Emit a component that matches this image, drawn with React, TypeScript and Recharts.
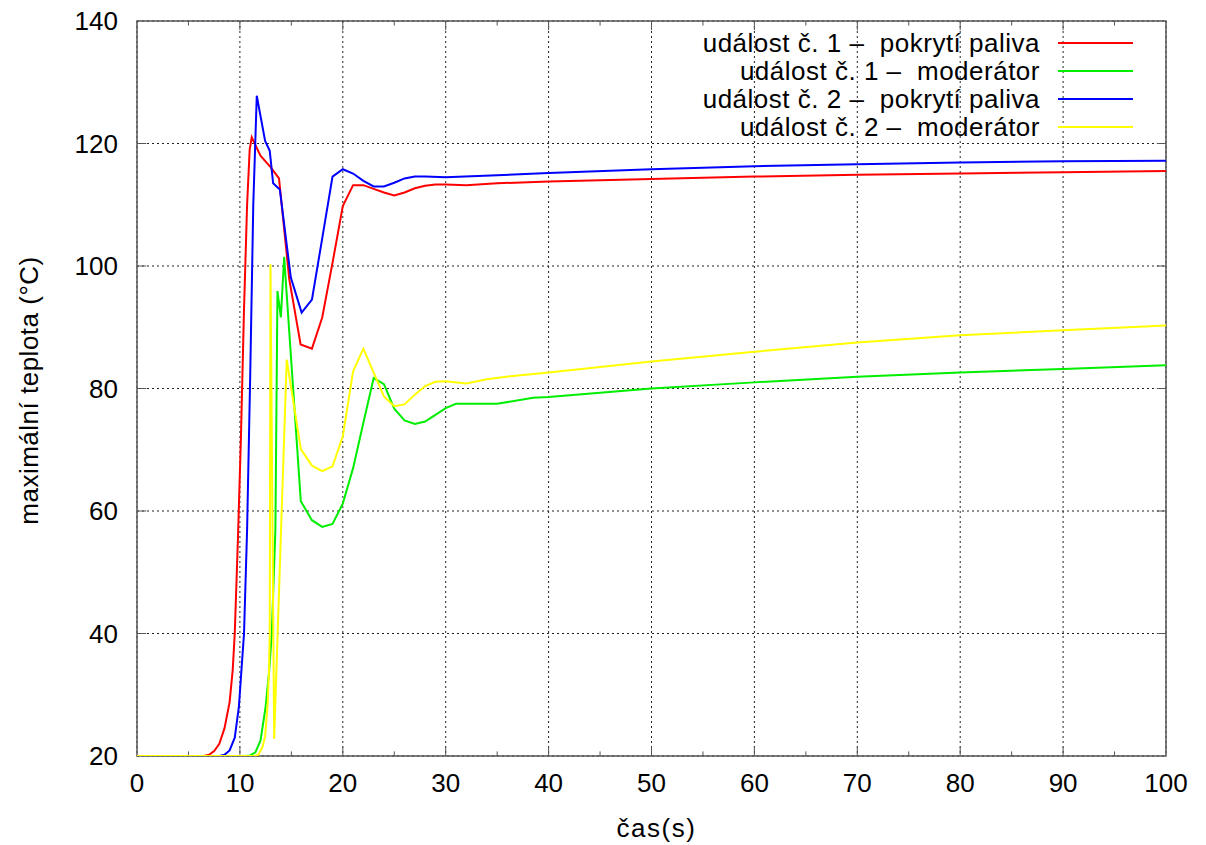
import React from 'react';
import {
  LineChart,
  Line,
  XAxis,
  YAxis,
  CartesianGrid,
  ReferenceLine,
  ReferenceArea,
  Legend,
} from 'recharts';

// událost č. 1 – pokrytí paliva
const redX = [0, 6.5, 7, 7.5, 8, 8.5, 9, 9.3, 9.5, 9.8, 10.1, 10.4, 10.7, 10.95, 11.15, 12, 13, 13.8, 14.8, 15.9, 17, 18, 19, 20, 21, 22, 23, 24, 25, 26, 27, 28, 29, 30, 32, 35, 40, 50, 60, 70, 80, 90, 100];
const redY = [20, 20, 20.2, 20.8, 22, 24.5, 28.8, 34, 40, 55, 72, 93, 110, 119, 121, 118, 116.1, 114.3, 97.8, 87.2, 86.5, 91.6, 100.5, 109.8, 113.2, 113.2, 112.6, 112.0, 111.5, 112.0, 112.7, 113.1, 113.3, 113.3, 113.2, 113.5, 113.8, 114.2, 114.6, 114.9, 115.1, 115.3, 115.5];

// událost č. 1 – moderátor
const greenX = [0, 10.5, 11, 11.5, 12, 12.5, 12.85, 13.1, 13.45, 13.65, 13.98, 14.3, 15.92, 17, 18, 19, 20, 21, 22, 23, 24, 25, 26, 27, 28, 29, 30, 31, 33, 35, 38.5, 40, 50, 60, 70, 80, 90, 100];
const greenY = [20, 20, 20.1, 20.6, 22.5, 28, 34, 40, 57, 95.9, 91.6, 101.5, 61.6, 58.5, 57.4, 57.9, 61.2, 67.0, 74.4, 81.7, 80.7, 76.7, 74.8, 74.2, 74.6, 75.7, 76.8, 77.5, 77.5, 77.5, 78.5, 78.6, 80.0, 81.0, 81.9, 82.6, 83.2, 83.8];

// událost č. 2 – pokrytí paliva
const blueX = [0, 8, 8.5, 9, 9.5, 9.9, 10.15, 10.4, 10.7, 11.0, 11.3, 11.64, 12.45, 12.9, 13.23, 13.88, 14.95, 16, 17, 18, 19, 20, 21, 22, 23, 24, 25, 26, 27, 28, 30, 35, 40, 50, 60, 70, 80, 90, 100];
const blueY = [20, 20, 20.2, 20.9, 23, 28, 34, 40, 57, 82, 110, 127.8, 120.4, 118.8, 113.5, 112.5, 98.1, 92.4, 94.5, 104.5, 114.6, 115.8, 115.1, 113.9, 113.0, 113.0, 113.6, 114.3, 114.6, 114.6, 114.5, 114.8, 115.2, 115.8, 116.3, 116.6, 116.9, 117.1, 117.2];

// událost č. 2 – moderátor
const yellowX = [0, 11.5, 11.8, 12.2, 12.45, 12.7, 12.83, 12.9, 12.97, 13.33, 14.0, 14.55, 15.92, 17, 18, 19, 20, 21, 22, 23, 24, 25, 26, 27, 28, 29, 30, 32, 34, 36.3, 40, 50, 60, 70, 80, 90, 100];
const yellowY = [20, 20, 20.2, 21.5, 23.2, 28.6, 34, 40, 100.3, 22.8, 57, 84.7, 70.1, 67.4, 66.5, 67.3, 72.2, 82.8, 86.5, 82.6, 78.7, 77.1, 77.4, 79.0, 80.4, 81.1, 81.2, 80.8, 81.5, 82.0, 82.6, 84.4, 86.0, 87.5, 88.7, 89.5, 90.3];

const xTicks = [0, 10, 20, 30, 40, 50, 60, 70, 80, 90, 100];
const xMinorTicks = [5, 15, 25, 35, 45, 55, 65, 75, 85, 95];
const yTicks = [20, 40, 60, 80, 100, 120, 140];

const zip = (xs: number[], ys: number[]) => xs.map((x, i) => ({ x, y: ys[i] }));

const SERIES = [
  { name: 'událost č. 1 –  pokrytí paliva', color: '#ff0000', data: zip(redX, redY) },
  { name: 'událost č. 1 –  moderátor', color: '#00ee00', data: zip(greenX, greenY) },
  { name: 'událost č. 2 –  pokrytí paliva', color: '#0000ff', data: zip(blueX, blueY) },
  { name: 'událost č. 2 –  moderátor', color: '#ffff00', data: zip(yellowX, yellowY) },
];

const FONT = '"Liberation Sans", Arial, Helvetica, sans-serif';
const FRAME = '#555';

const renderLegend = () => (
  <div style={{ fontFamily: FONT }}>
    {SERIES.map(s => (
      <div key={s.name} style={{ height: 28, display: 'flex', alignItems: 'center', justifyContent: 'flex-end' }}>
        <span style={{ fontSize: 26, color: '#000', whiteSpace: 'pre', letterSpacing: 0.5 }}>{s.name}</span>
        <span style={{ display: 'inline-block', width: 75, height: 2, background: s.color, marginLeft: 18 }} />
      </div>
    ))}
  </div>
);

export default function App() {
  return (
    <div style={{ position: 'absolute', left: 0, top: 0, width: 1206, height: 845, background: '#fff' }}>
      <LineChart
        width={1206}
        height={845}
        margin={{ top: 21, right: 40, bottom: 0, left: 0 }}
        style={{ fontFamily: FONT }}
      >
        <CartesianGrid stroke="#222" strokeDasharray="2 3" strokeWidth={1} />
        <XAxis
          type="number"
          dataKey="x"
          domain={[0, 100]}
          ticks={xTicks}
          allowDataOverflow
          height={89}
          axisLine={false}
          tickLine={false}
          tickSize={0}
          tickMargin={18}
          tick={{ fontSize: 26, fill: '#000' }}
          label={{
            content: (props: any) => {
              const vb = props.viewBox;
              return (
                <text x={vb.x + vb.width / 2 + 5} y={vb.y + 81} textAnchor="middle" fontSize={26} fill="#000" letterSpacing={1.5} fontFamily={FONT}>
                  čas(s)
                </text>
              );
            },
          }}
        />
        <YAxis
          type="number"
          dataKey="y"
          domain={[20, 140]}
          ticks={yTicks}
          allowDataOverflow
          width={137}
          axisLine={false}
          tickLine={false}
          tickSize={0}
          tickMargin={19}
          tick={{ fontSize: 26, fill: '#000' }}
          label={{
            content: (props: any) => {
              const vb = props.viewBox;
              const cx = vb.x + 29;
              const cy = vb.y + vb.height / 2 + 2;
              return (
                <text x={cx} y={cy} transform={`rotate(-90 ${cx} ${cy})`} textAnchor="middle" dominantBaseline="central" fontSize={26} fill="#000" letterSpacing={0.5} fontFamily={FONT}>
                  maximální teplota (°C)
                </text>
              );
            },
          }}
        />

        {xTicks.slice(1, -1).map(t => (
          <ReferenceLine key={`xb${t}`} segment={[{ x: t, y: 20 }, { x: t, y: 21.5 }]} stroke={FRAME} />
        ))}
        {xTicks.slice(1, -1).map(t => (
          <ReferenceLine key={`xt${t}`} segment={[{ x: t, y: 140 }, { x: t, y: 138.5 }]} stroke={FRAME} />
        ))}
        {xMinorTicks.map(t => (
          <ReferenceLine key={`mb${t}`} segment={[{ x: t, y: 20 }, { x: t, y: 20.75 }]} stroke={FRAME} />
        ))}
        {xMinorTicks.map(t => (
          <ReferenceLine key={`mt${t}`} segment={[{ x: t, y: 140 }, { x: t, y: 139.25 }]} stroke={FRAME} />
        ))}
        {yTicks.slice(1, -1).map(t => (
          <ReferenceLine key={`yl${t}`} segment={[{ x: 0, y: t }, { x: 0.9, y: t }]} stroke={FRAME} />
        ))}
        {yTicks.slice(1, -1).map(t => (
          <ReferenceLine key={`yr${t}`} segment={[{ x: 100, y: t }, { x: 99.1, y: t }]} stroke={FRAME} />
        ))}

        {SERIES.map(s => (
          <Line
            key={s.name}
            data={s.data}
            dataKey="y"
            name={s.name}
            type="linear"
            stroke={s.color}
            strokeWidth={2}
            dot={false}
            activeDot={false}
            isAnimationActive={false}
          />
        ))}

        <ReferenceArea x1={0} x2={100} y1={20} y2={140} fill="none" stroke={FRAME} strokeWidth={1.5} />

        <Legend
          layout="horizontal"
          verticalAlign="middle"
          align="center"
          content={renderLegend}
          wrapperStyle={{ position: 'absolute', top: 29, left: 560, width: 573 }}
        />
      </LineChart>
    </div>
  );
}
